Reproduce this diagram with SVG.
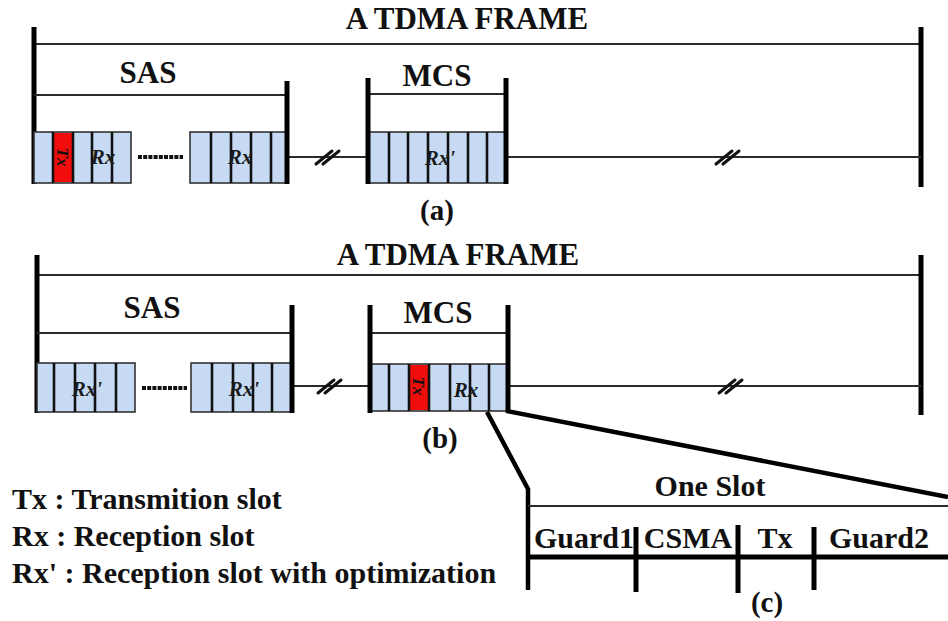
<svg xmlns="http://www.w3.org/2000/svg" xmlns:xlink="http://www.w3.org/1999/xlink" width="948" height="621" viewBox="0 0 948 621">
<style>
  .t{font-family:'Liberation Serif','DejaVu Serif',serif;font-weight:700;fill:#111;}
  .ttl{font-size:31px;text-anchor:middle;}
  .lbl{font-size:29px;text-anchor:middle;}
  .leg{font-size:30px;}
  .slot{font-size:30px;text-anchor:middle;}
  .rx{font-family:'Liberation Serif','DejaVu Serif',serif;font-weight:700;font-style:italic;font-size:21px;text-anchor:middle;fill:#1a1a1a;}
  .tx{font-family:'Liberation Serif','DejaVu Serif',serif;font-weight:700;font-style:italic;font-size:17px;text-anchor:middle;fill:#111;}
  .bar{stroke:#000;stroke-width:5;fill:none;}
  .thin{stroke:#2a2a2a;stroke-width:2;fill:none;}
  .box{fill:#C6DBF3;stroke:#333;stroke-width:1.6;}
  .div{stroke:#111;stroke-width:2.6;}
  .red{fill:#F20D0D;}
  .dash{stroke:#111;stroke-width:4;stroke-dasharray:4 1.2;}
  .brk{stroke:#111;stroke-width:3;stroke-linecap:round;}
  .zoom{stroke:#000;stroke-width:4.5;fill:none;stroke-linejoin:miter;}
</style>
<defs>
  <g id="break">
    <line class="brk" x1="-12" y1="7" x2="4" y2="-6"/>
    <line class="brk" x1="-5" y1="7" x2="11" y2="-6"/>
  </g>
</defs>
<rect width="948" height="621" fill="#fff"/>

<!-- ===== (a) ===== -->
<g id="frame-a">
  <line class="thin" x1="34" y1="44" x2="921" y2="44"/>
  <line class="bar" x1="34" y1="27" x2="34" y2="184"/>
  <line class="bar" x1="921" y1="27" x2="921" y2="187"/>
  <text class="t ttl" x="467" y="29">A TDMA FRAME</text>
  <line class="thin" x1="287" y1="157" x2="368" y2="157"/>
  <line class="thin" x1="506" y1="157" x2="921" y2="157"/>
  <use xlink:href="#break" x="328" y="157"/>
  <use xlink:href="#break" x="728" y="157"/>
  <text class="t lbl" x="437" y="220">(a)</text>
</g>
<g id="sas-a">
  <text class="t ttl" x="148" y="83">SAS</text>
  <line class="thin" x1="34" y1="95" x2="287" y2="95"/>
  <rect class="box" x="34" y="132" width="97" height="51"/>
  <rect class="red" x="53" y="133" width="20" height="49"/>
  <line class="div" x1="53" y1="132" x2="53" y2="183"/>
  <line class="div" x1="73" y1="132" x2="73" y2="183"/>
  <line class="div" x1="92" y1="132" x2="92" y2="183"/>
  <line class="div" x1="112" y1="132" x2="112" y2="183"/>
  <text class="tx" transform="translate(63,157) rotate(90)" y="6">Tx</text>
  <text class="rx" x="103" y="164">Rx</text>
  <line class="dash" x1="138" y1="157" x2="183" y2="157"/>
  <rect class="box" x="190" y="132" width="97" height="51"/>
  <line class="div" x1="211" y1="132" x2="211" y2="183"/>
  <line class="div" x1="231" y1="132" x2="231" y2="183"/>
  <line class="div" x1="251" y1="132" x2="251" y2="183"/>
  <line class="div" x1="271" y1="132" x2="271" y2="183"/>
  <text class="rx" x="240" y="164">Rx</text>
  <line class="bar" x1="287" y1="81" x2="287" y2="184"/>
</g>
<g id="mcs-a">
  <text class="t ttl" x="437" y="86">MCS</text>
  <line class="thin" x1="368" y1="94" x2="506" y2="94"/>
  <rect class="box" x="368" y="132" width="138" height="51"/>
  <line class="div" x1="389" y1="132" x2="389" y2="183"/>
  <line class="div" x1="408" y1="132" x2="408" y2="183"/>
  <line class="div" x1="428" y1="132" x2="428" y2="183"/>
  <line class="div" x1="448" y1="132" x2="448" y2="183"/>
  <line class="div" x1="468" y1="132" x2="468" y2="183"/>
  <line class="div" x1="487" y1="132" x2="487" y2="183"/>
  <text class="rx" x="440" y="165">Rx'</text>
  <line class="bar" x1="368" y1="78" x2="368" y2="184"/>
  <line class="bar" x1="506" y1="78" x2="506" y2="184"/>
</g>

<!-- ===== (b) ===== -->
<g id="frame-b">
  <line class="thin" x1="37" y1="275" x2="921" y2="275"/>
  <line class="bar" x1="37" y1="255" x2="37" y2="413"/>
  <line class="bar" x1="921" y1="255" x2="921" y2="415"/>
  <text class="t ttl" x="458" y="265">A TDMA FRAME</text>
  <line class="thin" x1="292" y1="386" x2="370" y2="386"/>
  <line class="thin" x1="508" y1="386" x2="921" y2="386"/>
  <use xlink:href="#break" x="330" y="386"/>
  <use xlink:href="#break" x="731" y="386"/>
  <text class="t lbl" x="440" y="448">(b)</text>
</g>
<g id="sas-b">
  <text class="t ttl" x="152" y="318">SAS</text>
  <line class="thin" x1="37" y1="333" x2="292" y2="333"/>
  <rect class="box" x="37" y="363" width="98" height="49"/>
  <line class="div" x1="54" y1="363" x2="54" y2="412"/>
  <line class="div" x1="75" y1="363" x2="75" y2="412"/>
  <line class="div" x1="95" y1="363" x2="95" y2="412"/>
  <line class="div" x1="116" y1="363" x2="116" y2="412"/>
  <text class="rx" x="87" y="396">Rx'</text>
  <line class="dash" x1="142" y1="388" x2="187" y2="388"/>
  <rect class="box" x="191" y="363" width="101" height="49"/>
  <line class="div" x1="212" y1="363" x2="212" y2="412"/>
  <line class="div" x1="233" y1="363" x2="233" y2="412"/>
  <line class="div" x1="253" y1="363" x2="253" y2="412"/>
  <line class="div" x1="272" y1="363" x2="272" y2="412"/>
  <text class="rx" x="244" y="396">Rx'</text>
  <line class="bar" x1="292" y1="305" x2="292" y2="413"/>
</g>
<g id="mcs-b">
  <text class="t ttl" x="438" y="323">MCS</text>
  <line class="thin" x1="370" y1="333" x2="508" y2="333"/>
  <rect class="box" x="370" y="364" width="138" height="47"/>
  <rect class="red" x="409" y="365" width="20" height="45"/>
  <line class="div" x1="389" y1="364" x2="389" y2="411"/>
  <line class="div" x1="409" y1="364" x2="409" y2="411"/>
  <line class="div" x1="429" y1="364" x2="429" y2="411"/>
  <line class="div" x1="450" y1="364" x2="450" y2="411"/>
  <line class="div" x1="470" y1="364" x2="470" y2="411"/>
  <line class="div" x1="489" y1="364" x2="489" y2="411"/>
  <text class="tx" transform="translate(419,386) rotate(90)" y="6">Tx</text>
  <text class="rx" x="466" y="397">Rx</text>
  <line class="bar" x1="370" y1="305" x2="370" y2="413"/>
  <line class="bar" x1="508" y1="305" x2="508" y2="413"/>
</g>

<!-- ===== connectors (zoom lines) ===== -->
<g id="connectors">
  <polyline class="zoom" points="487,412 528,489 528,590"/>
  <line class="zoom" x1="507" y1="411" x2="948" y2="497"/>
</g>

<!-- ===== (c) one slot ===== -->
<g id="slot-c">
  <text class="t slot" x="710" y="496">One Slot</text>
  <line class="thin" x1="528" y1="506" x2="948" y2="506"/>
  <line class="bar" x1="528" y1="557" x2="948" y2="557"/>
  <line class="bar" x1="636" y1="527" x2="636" y2="592"/>
  <line class="bar" x1="738" y1="525" x2="738" y2="593"/>
  <line class="bar" x1="814" y1="527" x2="814" y2="590"/>
  <text class="t slot" x="584" y="548">Guard1</text>
  <text class="t slot" x="688" y="548">CSMA</text>
  <text class="t slot" x="775" y="548">Tx</text>
  <text class="t slot" x="879" y="548">Guard2</text>
  <text class="t lbl" x="767" y="612">(c)</text>
</g>

<!-- ===== legend ===== -->
<g id="legend">
  <text class="t leg" x="12" y="509">Tx : Transmition slot</text>
  <text class="t leg" x="12" y="546">Rx : Reception slot</text>
  <text class="t leg" x="12" y="583">Rx' : Reception slot with optimization</text>
</g>
</svg>
